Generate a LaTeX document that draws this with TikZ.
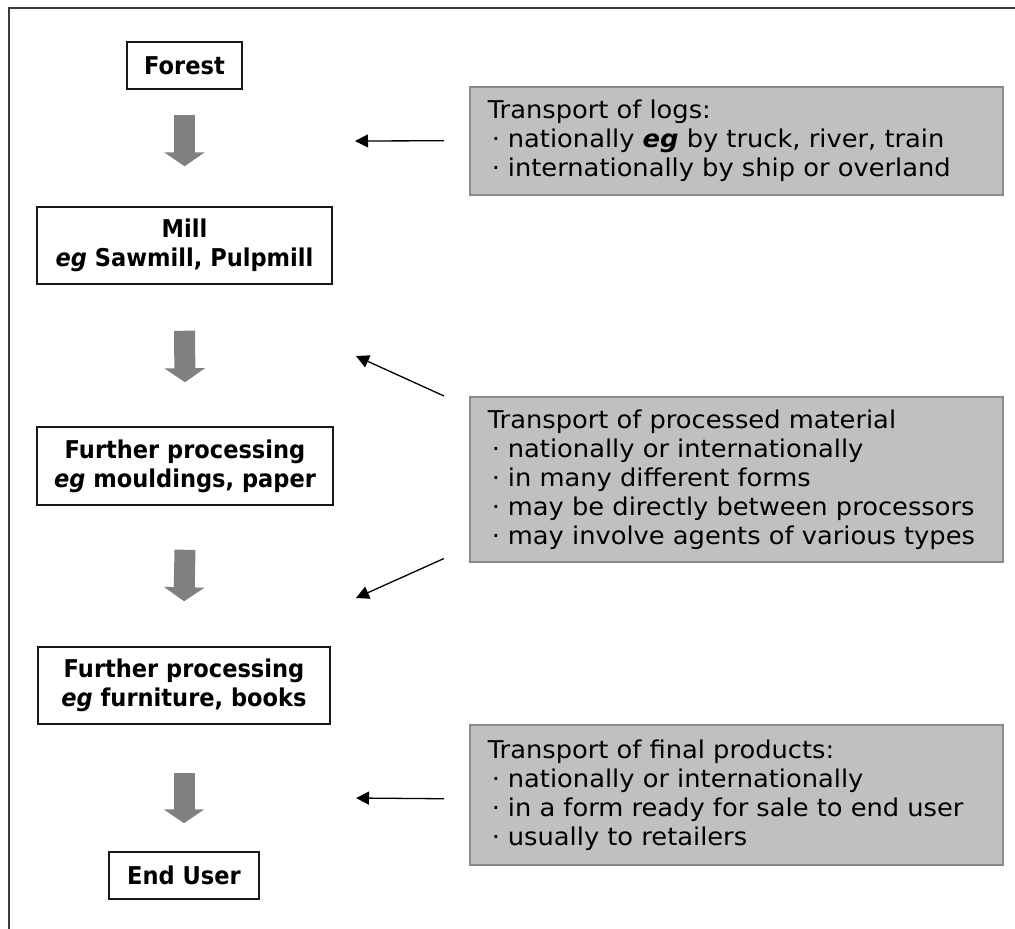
\documentclass[tikz,border=0pt]{standalone}
\usepackage{fontspec}
\setmainfont{DejaVu Sans}
\newfontfamily\grayfont{DejaVu Sans}[FakeStretch=1.05]
\newfontfamily\leftfont{DejaVu Sans}[FakeStretch=0.92]
\usetikzlibrary{arrows.meta}
\definecolor{notefill}{HTML}{C0C0C0}
\definecolor{noteedge}{HTML}{8A8A8A}
\definecolor{blockgray}{HTML}{808080}
\definecolor{framegray}{HTML}{3A3A3A}
\tikzset{
  stepbox/.style={draw=black!90, line width=1.5pt, fill=white, inner sep=0pt,
    font=\leftfont\bfseries\fontsize{24.5}{29}\selectfont, align=center},
  notebox/.style={draw=noteedge, line width=1.5pt, fill=notefill, anchor=north west,
    inner xsep=18pt, inner ysep=0pt, text width=497pt, align=left,
    font=\grayfont\fontsize{24.5}{29}\selectfont},
  blockarrow/.style={draw=blockgray, line width=21pt, -{Triangle[width=40pt,length=14pt]}},
  pointer/.style={draw=black, line width=1.3pt, -{Triangle[width=13pt,length=13pt]}},
  framestyle/.style={draw=framegray, line width=2pt}
}
\newcommand{\bul}{\hspace*{4pt}·\hspace{8pt}}
\begin{document}
\begin{tikzpicture}[x=1pt,y=-1pt]
\useasboundingbox (0,0) rectangle (1015,929);
\draw[framestyle] (1015,8) -- (9,8) -- (9,929);

\node[stepbox, minimum width=115pt, minimum height=47pt] (forest) at (184.5,65.5) {Forest};
\node[stepbox, minimum width=295pt, minimum height=77pt] (mill) at (184.5,245.5) {Mill\\\textit{eg} Sawmill, Pulpmill};
\node[stepbox, minimum width=296pt, minimum height=78pt] (fp1) at (185,466) {Further processing\\\textit{eg} mouldings, paper};
\node[stepbox, minimum width=292pt, minimum height=77pt] (fp2) at (184,685.5) {Further processing\\\textit{eg} furniture, books};
\node[stepbox, minimum width=150pt, minimum height=47pt] (enduser) at (184,875.5) {End User};

\draw[blockarrow] ([yshift=-25pt]forest.south) -- ([yshift=40pt]mill.north);
\draw[blockarrow] ([yshift=-46pt]mill.south) -- ([yshift=44pt]fp1.north);
\draw[blockarrow] ([yshift=-44pt]fp1.south) -- ([yshift=45pt]fp2.north);
\draw[blockarrow] ([yshift=-48pt]fp2.south) -- ([yshift=28pt]enduser.north);

\node[notebox, minimum height=108pt] (g1) at (469,86) {Transport of logs:\\\bul nationally \textbf{\textit{eg}} by truck, river, train\\\bul internationally by ship or overland};
\node[notebox, minimum height=165pt] (g2) at (469,396) {Transport of processed material\\\bul nationally or internationally\\\bul in many different forms\\\bul may be directly between processors\\\bul may involve agents of various types};
\node[notebox, minimum height=140pt] (g3) at (469,724) {Transport of final products:\\\bul nationally or internationally\\\bul in a form ready for sale to end user\\\bul usually to retailers};

\coordinate (t1) at (355,141);
\coordinate (t2) at (356,356);
\coordinate (t3) at (356,598);
\coordinate (t4) at (356,798);
\draw[pointer] ([xshift=-25pt]g1.west) -- (t1);
\draw[pointer] ([xshift=-25pt]g2.north west) -- (t2);
\draw[pointer] ([xshift=-25pt,yshift=4pt]g2.south west) -- (t3);
\draw[pointer] ([xshift=-25pt,yshift=-4pt]g3.west) -- (t4);
\end{tikzpicture}
\end{document}
